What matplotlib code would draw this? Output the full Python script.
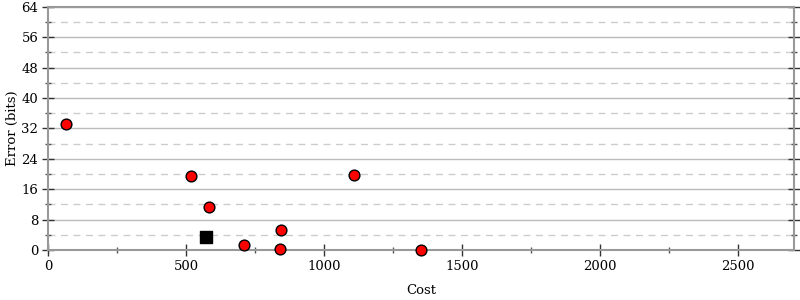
import matplotlib
matplotlib.use('Agg')
import matplotlib.pyplot as plt
from matplotlib.ticker import MultipleLocator

plt.rcParams['font.family'] = 'DejaVu Serif'

# red points: (cost, error bits)
cost = [65, 518, 583, 710, 841, 844, 1109, 1351]
error = [33.2, 19.5, 11.3, 1.3, 0.3, 5.3, 19.7, 0.0]
# initial program (black square)
init_cost = [572]
init_error = [3.4]

fig = plt.figure(figsize=(8, 3), dpi=100)
ax = fig.add_axes([0.06, 0.167, 0.932, 0.81])

ax.set_xlim(0, 2700)
ax.set_ylim(0, 64)
ax.xaxis.set_major_locator(MultipleLocator(500))
ax.xaxis.set_minor_locator(MultipleLocator(250))
ax.yaxis.set_major_locator(MultipleLocator(8))
ax.yaxis.set_minor_locator(MultipleLocator(4))

ax.grid(True, which='major', axis='y', color='#bbbbbb', linewidth=1, linestyle='-')
ax.grid(True, which='minor', axis='y', color='#cccccc', linewidth=1, linestyle=(0, (5, 4)))
ax.set_axisbelow(True)

for side in ['left', 'right', 'top', 'bottom']:
    ax.spines[side].set_color('#999999')
    ax.spines[side].set_linewidth(1.5)

ax.tick_params(axis='both', which='major', direction='inout', length=8, width=1, color='#333333',
               labelsize=9.5, pad=3)
ax.tick_params(axis='both', which='minor', direction='inout', length=5, width=1, color='#555555')
ax.tick_params(axis='y', which='both', right=True)

ax.scatter(cost, error, s=60, color='red', edgecolor='black', linewidth=1, zorder=3, clip_on=False)
ax.scatter(init_cost, init_error, s=80, marker='s', color='black', zorder=3)

ax.set_xlabel('Cost', fontsize=9.5, labelpad=8)
ax.set_ylabel('Error (bits)', fontsize=9.5, labelpad=2)

fig.savefig('out.png', dpi=100)
